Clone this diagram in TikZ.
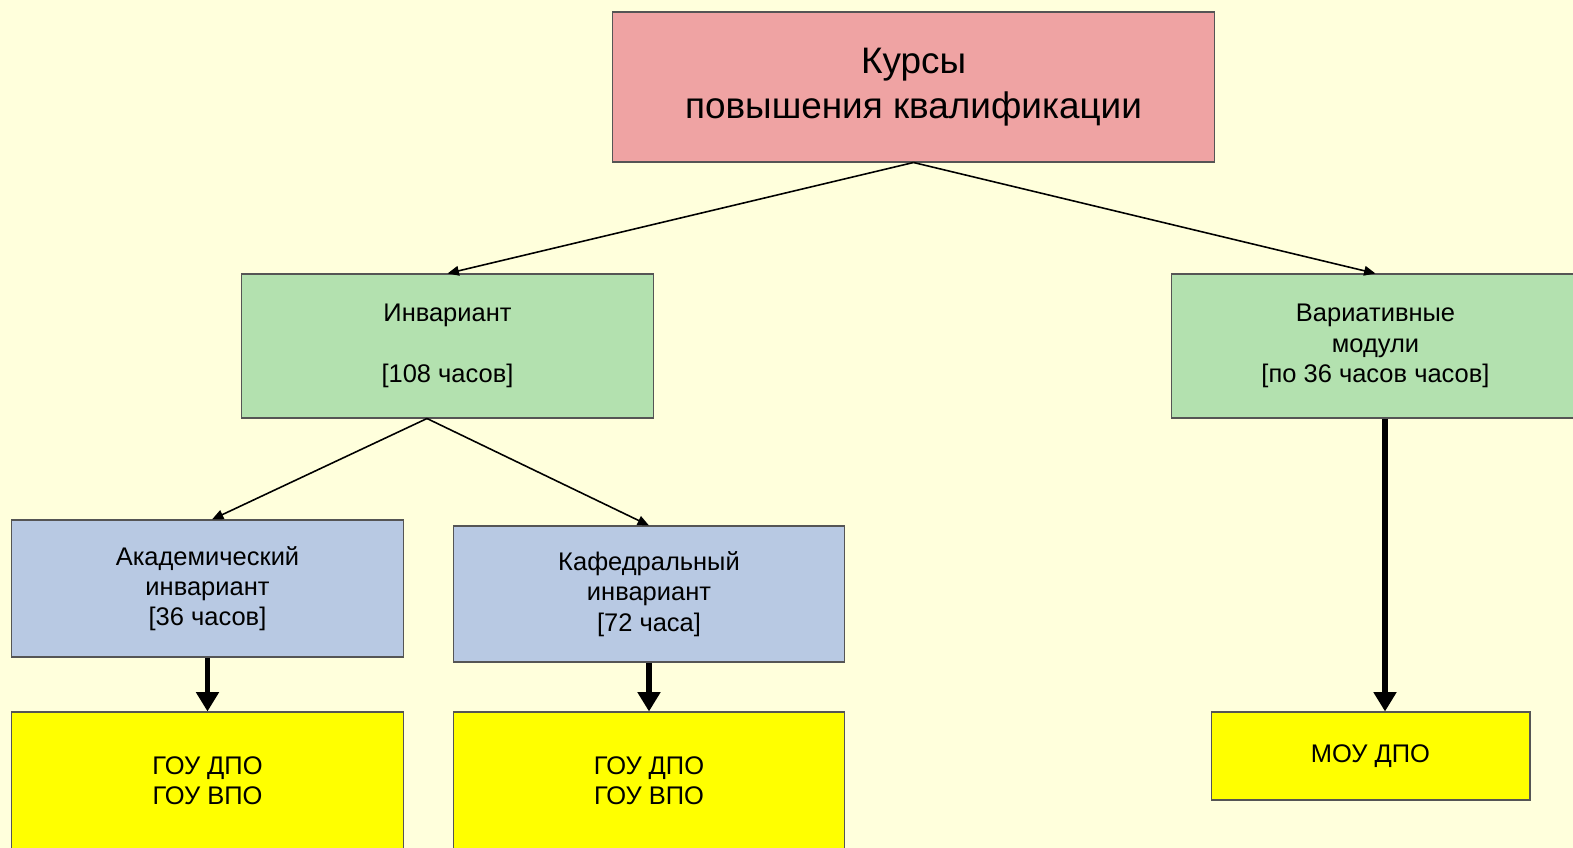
\documentclass[tikz,border=0pt]{standalone}
\usepackage{fontspec}
\setmainfont{Liberation Sans}
\usetikzlibrary{arrows.meta}
\definecolor{bgyellow}{HTML}{FFFFDC}
\definecolor{titlepink}{HTML}{EFA3A3}
\definecolor{modgreen}{HTML}{B3E1AF}
\definecolor{invblue}{HTML}{B8C9E3}
\definecolor{orgyellow}{HTML}{FFFF00}
\definecolor{edgegray}{HTML}{555555}
\tikzset{
  box/.style={draw=edgegray, line width=0.6pt, align=center, inner sep=0pt,
    font=\fontsize{14.5}{17.2}\selectfont},
  link/.style={line width=0.9pt, -{Triangle[length=6.5pt,width=5.5pt]}},
  thicklink/.style={line width=3.2pt, -{Triangle[length=11pt,width=12.5pt]}}
}
\begin{document}
\begin{tikzpicture}[x=0.02cm, y=-0.02cm]
      \useasboundingbox[fill=bgyellow] (0, 0) rectangle (1573, 848);
      \node (kursy) at (913.5, 87) [box, fill=titlepink, minimum width=12.06cm, minimum height=3cm,
        font=\fontsize{21}{25.5}\selectfont] {Курсы\\повышения квалификации};

      \node (inv) at (447.5, 346) [box, fill=modgreen, minimum width=8.26cm, minimum height=2.88cm]
        {Инвариант\\[17.2pt][108 часов]};
      \node (var) at (1375.5, 346) [box, fill=modgreen, minimum width=8.18cm, minimum height=2.88cm]
        {Вариативные\\модули\\{[}по 36 часов часов]};

      \node (akad) at (207.5, 588.5) [box, fill=invblue, minimum width=7.86cm, minimum height=2.74cm]
        {Академический\\инвариант\\{[}36 часов]};
      \node (kaf) at (649, 594) [box, fill=invblue, minimum width=7.84cm, minimum height=2.72cm]
        {Кафедральный\\инвариант\\{[}72 часа]};

      \node (gouA) at (207.5, 781) [box, fill=orgyellow, minimum width=7.86cm, minimum height=2.76cm]
        {ГОУ ДПО\\ГОУ ВПО};
      \node (gouB) at (649, 781) [box, fill=orgyellow, minimum width=7.84cm, minimum height=2.76cm]
        {ГОУ ДПО\\ГОУ ВПО};
      \node (mou) at (1370.5, 756) [box, fill=orgyellow, minimum width=6.38cm, minimum height=1.76cm]
        {МОУ ДПО};

      \coordinate (invout) at ([xshift=-0.41cm]inv.south);
      \coordinate (varout) at ([xshift=0.19cm]var.south);

      \draw[link] (kursy.south) -- (inv.north);
      \draw[link] (kursy.south) -- (var.north);
      \draw[link] (invout) -- ([xshift=0.09cm]akad.north);
      \draw[link] (invout) -- (kaf.north);

      \draw[thicklink] (akad.south) -- (gouA.north);
      \draw[thicklink] (kaf.south) -- (gouB.north);
      \draw[thicklink] (varout) -- (varout |- mou.north);
    \end{tikzpicture}
\end{document}
